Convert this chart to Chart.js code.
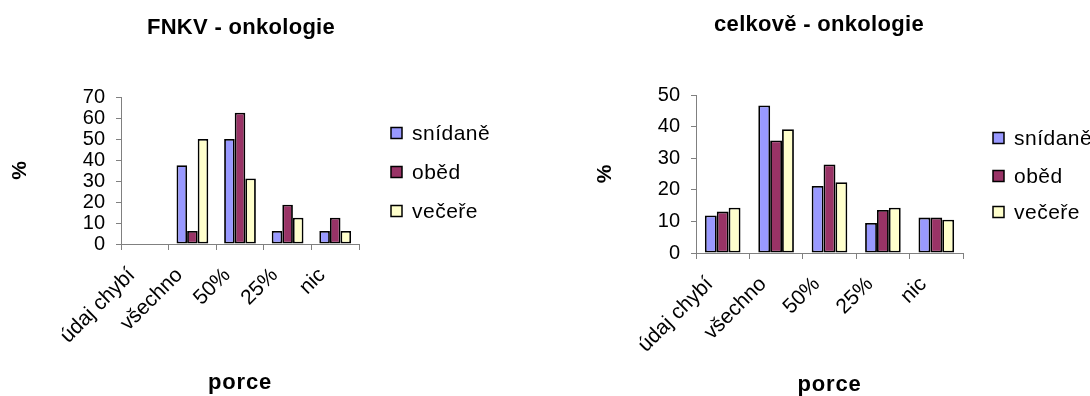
<!DOCTYPE html>
<html>
<head>
<meta charset="utf-8">
<script src="https://cdn.jsdelivr.net/npm/chart.js@4/dist/chart.umd.min.js"></script>
<style>
  html, body { margin: 0; padding: 0; background: #ffffff; }
  #wrap { position: relative; width: 1090px; height: 396px; overflow: hidden; }
  canvas { position: absolute; top: 0; }
</style>
</head>
<body>
<div id="wrap">
  <canvas id="fnkv" width="545" height="396" style="left:0"></canvas>
  <canvas id="celkem" width="545" height="396" style="left:545px"></canvas>
</div>
<script>
// Portion eaten per meal (percent of patients)
const categories = ['údaj chybí', 'všechno', '50%', '25%', 'nic'];
const seriesNames = ['snídaně', 'oběd', 'večeře'];
const seriesColors = ['#9999FF', '#993366', '#FFFFCC'];

const fnkvSnidane = [0, 37.5, 50, 6.25, 6.25];
const fnkvObed    = [0, 6.25, 62.5, 18.75, 12.5];
const fnkvVecere  = [0, 50, 31.25, 12.5, 6.25];

const celkemSnidane = [11.9, 46.7, 21.2, 9.5, 11.2];
const celkemObed    = [13.1, 35.6, 28.0, 13.6, 11.2];
const celkemVecere  = [14.3, 39.2, 22.4, 14.3, 10.5];

const fnkvYTicks   = [0, 10, 20, 30, 40, 50, 60, 70];
const celkemYTicks = [0, 10, 20, 30, 40, 50];

const FONT = '"Liberation Sans", Arial, sans-serif';

// Chart title, axis titles and legend drawn on top of the plot
const decorPlugin = {
  id: 'decor',
  afterDraw(chart, args, opts) {
    const ctx = chart.ctx;
    const area = chart.chartArea;
    ctx.save();
    ctx.fillStyle = '#000';
    ctx.textAlign = 'center';
    ctx.textBaseline = 'middle';

    // chart title
    ctx.font = 'bold 22px ' + FONT;
    ctx.letterSpacing = '0.3px';
    ctx.fillText(opts.title, opts.titleX, opts.titleY);

    // x axis title
    ctx.font = 'bold 22px ' + FONT;
    ctx.letterSpacing = '0.8px';
    ctx.fillText(opts.xTitle, (area.left + area.right) / 2, opts.xTitleY);

    // y axis title
    ctx.save();
    ctx.letterSpacing = '0px';
    ctx.translate(opts.yTitleX, (area.top + area.bottom) / 2);
    ctx.rotate(-Math.PI / 2);
    ctx.font = 'bold 21px ' + FONT;
    ctx.fillText(opts.yTitle, 0, 0);
    ctx.restore();

    // legend
    ctx.font = '21px ' + FONT;
    ctx.letterSpacing = '0.5px';
    ctx.textAlign = 'left';
    chart.data.datasets.forEach((ds, i) => {
      const y = opts.legendY[i];
      ctx.fillStyle = ds.backgroundColor;
      ctx.fillRect(opts.legendX, y - 5.5, 11, 11);
      ctx.strokeStyle = '#000';
      ctx.lineWidth = 1.5;
      ctx.strokeRect(opts.legendX, y - 5.5, 11, 11);
      ctx.fillStyle = '#000';
      ctx.fillText(ds.label, opts.legendX + 21, y + 1);
    });
    ctx.restore();
  }
};

function makeChart(id, values, yTicks, layout) {
  const datasets = values.map((v, i) => ({
    label: seriesNames[i],
    data: v,
    backgroundColor: seriesColors[i],
    borderColor: '#000000',
    borderWidth: 1.8,
    borderSkipped: false,
    categoryPercentage: 0.667,
    barPercentage: 1.0
  }));

  return new Chart(document.getElementById(id), {
    type: 'bar',
    data: { labels: categories, datasets },
    plugins: [decorPlugin],
    options: {
      responsive: false,
      animation: false,
      devicePixelRatio: 1,
      layout: { padding: layout.padding },
      plugins: {
        legend: { display: false },
        title: { display: false },
        tooltip: { enabled: false },
        decor: layout.decor
      },
      scales: {
        x: {
          grid: {
            display: true, drawOnChartArea: false, drawTicks: true,
            tickLength: 6, color: '#808080', offset: true
          },
          border: { display: true, color: '#808080', width: 1 },
          ticks: {
            minRotation: 45, maxRotation: 45, autoSkip: false,
            color: '#000', padding: layout.xTickPadding,
            labelOffset: layout.xLabelOffset,
            font: { family: FONT, size: 21 }
          },
          afterFit: s => { s.height = layout.xHeight; }
        },
        y: {
          min: yTicks[0],
          max: yTicks[yTicks.length - 1],
          afterBuildTicks: s => { s.ticks = yTicks.map(v => ({ value: v })); },
          grid: {
            display: true, drawOnChartArea: false, drawTicks: true,
            tickLength: 5, color: '#808080'
          },
          border: { display: true, color: '#808080', width: 1 },
          ticks: {
            autoSkip: false,
            color: '#000', padding: 11,
            font: { family: FONT, size: 20 }
          },
          afterFit: s => { s.width = layout.yWidth; }
        }
      }
    }
  });
}

makeChart('fnkv', [fnkvSnidane, fnkvObed, fnkvVecere], fnkvYTicks, {
  padding: { left: 0, top: 97, right: 186, bottom: 22 },
  yWidth: 121,
  xHeight: 130,
  xTickPadding: 13,
  xLabelOffset: -13,
  decor: {
    title: 'FNKV - onkologie', titleX: 241, titleY: 28,
    xTitle: 'porce', xTitleY: 383,
    yTitle: '%', yTitleX: 20,
    legendX: 391, legendY: [133, 172, 211]
  }
});

makeChart('celkem', [celkemSnidane, celkemObed, celkemVecere], celkemYTicks, {
  padding: { left: 0, top: 95, right: 127, bottom: 13 },
  yWidth: 151,
  xHeight: 130,
  xTickPadding: 13,
  xLabelOffset: -13,
  decor: {
    title: 'celkově - onkologie', titleX: 274, titleY: 25,
    xTitle: 'porce', xTitleY: 385,
    yTitle: '%', yTitleX: 60,
    legendX: 448, legendY: [138, 176, 212]
  }
});
</script>
</body>
</html>
